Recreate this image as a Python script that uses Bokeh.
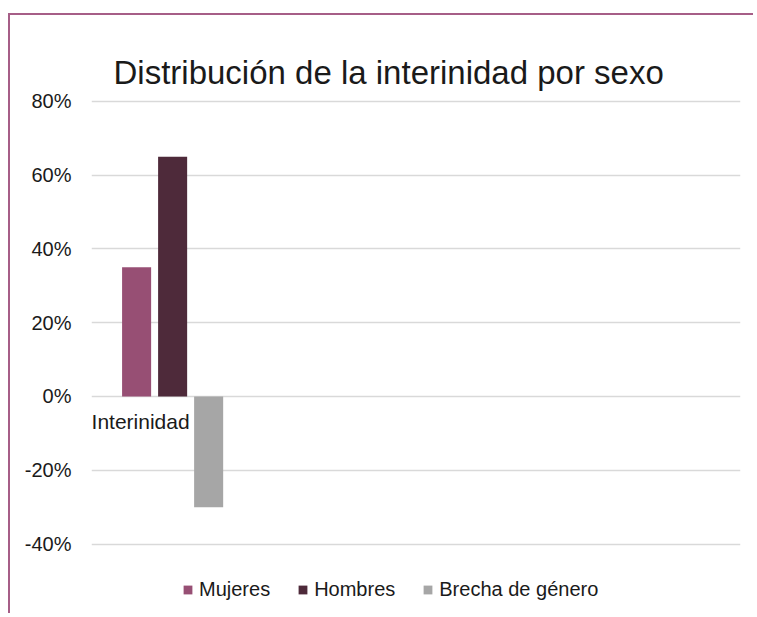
from bokeh.plotting import figure
from bokeh.models import (Range1d, FixedTicker, PrintfTickFormatter, Legend, LegendItem,
                          ColumnDataSource)
from bokeh.transform import dodge
from bokeh.core.properties import value
from bokeh.embed import file_html
from bokeh.resources import INLINE

# ---- data ----
categories = ["Interinidad"]
mujeres = [35]
hombres = [65]
brecha = [-30]
series_names = ["Mujeres", "Hombres", "Brecha de género"]
y_ticks = [-40, -20, 0, 20, 40, 60, 80]
n_slots = 4

colors = ["#974F74", "#4E2A3A", "#A6A6A6"]
FONT = "Liberation Sans"
BORDER = "#A65E87"

src = ColumnDataSource(dict(
    x=[i + 0.5 for i in range(len(categories))],
    cat=categories,
    mujeres=mujeres,
    hombres=hombres,
    brecha=brecha,
))

W, H = 745, 600
p = figure(width=W, height=H, output_backend="svg", toolbar_location=None,
           x_range=Range1d(0, n_slots), y_range=Range1d(-59.35, 81.3),
           min_border_left=81, min_border_right=15, min_border_top=81, min_border_bottom=0)
p.styles = {"border-left": f"2px solid {BORDER}", "border-top": f"2px solid {BORDER}",
            "margin-left": "8px", "margin-top": "13px"}

p.outline_line_color = None
p.background_fill_color = "white"
p.border_fill_color = "white"

bw = 0.179
off = 0.222
r1 = p.vbar(x=dodge("x", -off, range=p.x_range), top="mujeres", bottom=0, width=bw,
            source=src, fill_color=colors[0], line_color=None)
r2 = p.vbar(x=dodge("x", 0, range=p.x_range), top="hombres", bottom=0, width=bw,
            source=src, fill_color=colors[1], line_color=None)
r3 = p.vbar(x=dodge("x", off, range=p.x_range), top="brecha", bottom=0, width=bw,
            source=src, fill_color=colors[2], line_color=None)

p.text(x="x", y=0, text="cat", source=src, x_offset=-32, y_offset=25,
       text_align="center", text_baseline="middle", text_font=value(FONT),
       text_font_size="21px", text_color="#1a1a1a")

p.xaxis.visible = False
p.xgrid.visible = False
p.yaxis.ticker = FixedTicker(ticks=y_ticks)
p.yaxis.formatter = PrintfTickFormatter(format="%d%%")
p.yaxis.axis_line_color = None
p.yaxis.major_tick_line_color = None
p.yaxis.minor_tick_line_color = None
p.yaxis.major_tick_in = 0
p.yaxis.major_tick_out = 0
p.yaxis.major_label_standoff = 20
p.yaxis.major_label_text_font = FONT
p.yaxis.major_label_text_font_size = "20px"
p.yaxis.major_label_text_color = "#1a1a1a"
p.ygrid.ticker = FixedTicker(ticks=y_ticks)
p.ygrid.grid_line_color = "#D9D9D9"
p.ygrid.grid_line_width = 1.5

p.title.text = "Distribución de la interinidad por sexo"
p.title.text_font = FONT
p.title.text_font_size = "33px"
p.title.text_font_style = "normal"
p.title.text_color = "#1a1a1a"
p.title.align = "left"
p.title.offset = 22
p.title.standoff = 12

legend = Legend(items=[LegendItem(label=series_names[0], renderers=[r1]),
                       LegendItem(label=series_names[1], renderers=[r2]),
                       LegendItem(label=series_names[2], renderers=[r3])],
                orientation="horizontal", glyph_width=11, glyph_height=11,
                label_standoff=6, spacing=27, label_text_font=FONT,
                label_text_font_size="20px", label_text_color="#1a1a1a",
                border_line_color=None, background_fill_alpha=0,
                padding=0, margin=0, location=(91, 14))
p.add_layout(legend, "center")

open("out.html", "w").write(file_html(p, INLINE))
